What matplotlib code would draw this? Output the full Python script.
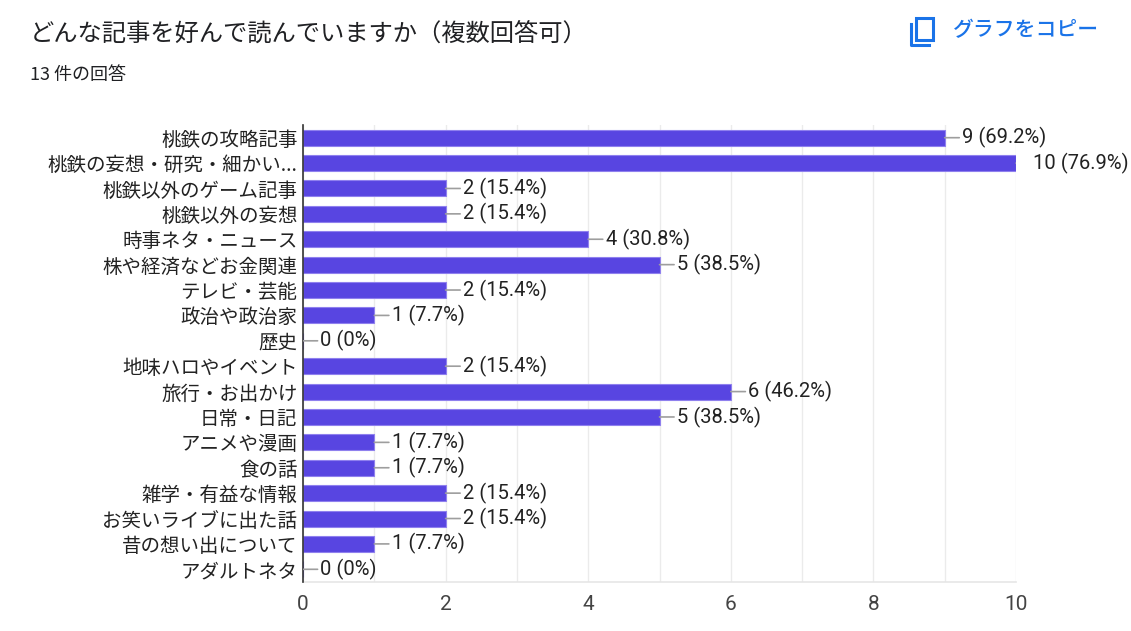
import matplotlib
matplotlib.use("Agg")
import matplotlib.pyplot as plt
from matplotlib.patches import Rectangle
from matplotlib.lines import Line2D

plt.rcParams['font.family'] = ['Noto Sans CJK JP', 'DejaVu Sans']

categories = ["桃鉄の攻略記事", "桃鉄の妄想・研究・細かい...", "桃鉄以外のゲーム記事", "桃鉄以外の妄想",
              "時事ネタ・ニュース", "株や経済などお金関連", "テレビ・芸能", "政治や政治家", "歴史",
              "地味ハロやイベント", "旅行・お出かけ", "日常・日記", "アニメや漫画", "食の話",
              "雑学・有益な情報", "お笑いライブに出た話", "昔の想い出について", "アダルトネタ"]
values = [9, 10, 2, 2, 4, 5, 2, 1, 0, 2, 6, 5, 1, 1, 2, 2, 1, 0]
total = 13
xticks = [0, 2, 4, 6, 8, 10]

W, H = 1131, 631
fig = plt.figure(figsize=(W / 100, H / 100), dpi=100)
ax = fig.add_axes([303 / W, 1 - 582 / H, (1016 - 303) / W, (582 - 125) / H])

bar_color = '#5845e1'
ys = list(range(len(categories)))
ax.barh(ys, values, height=0.63, color=bar_color, edgecolor='#8f80ee', linewidth=0.8, zorder=3)
ax.set_ylim(len(categories) - 0.5, -0.5)
ax.set_xlim(0, 10)

ax.set_xticks(range(0, 11))
ax.set_xticklabels([str(t) if t in xticks else '' for t in range(0, 11)])
ax.grid(axis='x', color='#ebebeb', linewidth=1, zorder=0)
ax.tick_params(axis='x', length=0, pad=9, labelsize=15, labelcolor='#444444')
for lab in ax.get_xticklabels():
    lab.set_family(['Roboto', 'DejaVu Sans'])
ax.set_yticks(ys)
ax.set_yticklabels(categories, fontsize=14, color='#222222')
ax.tick_params(axis='y', length=0, pad=4)

for s in ['top', 'right']:
    ax.spines[s].set_visible(False)
ax.spines['left'].set_color('#333333')
ax.spines['left'].set_linewidth(1.2)
ax.spines['left'].set_zorder(4)
ax.spines['bottom'].set_color('#e6e6e6')
ax.spines['bottom'].set_linewidth(1.2)

for y, v in zip(ys, values):
    pct = v / total * 100
    pct_s = f"{pct:.1f}%" if v > 0 else "0%"
    ann = ax.annotate(f"{v} ({pct_s})", xy=(v, y), xytext=(12.5, 0), textcoords='offset points',
                      va='center', ha='left', fontsize=14.5, color='#222222',
                      family=['Roboto', 'DejaVu Sans'],
                      arrowprops=dict(arrowstyle='-', color='#9e9e9e', lw=1.2, shrinkA=0, shrinkB=0,
                                      relpos=(0, 0.5)),
                      annotation_clip=False, zorder=5)
    ann.arrow_patch.set_clip_box(ax.bbox)
    ann.arrow_patch.set_clip_on(True)

fig.text(30 / W, 1 - 34 / H, "どんな記事を好んで読んでいますか（複数回答可）", fontsize=17.5,
         color='#202124', va='center', ha='left')
fig.text(30 / W, 1 - 75 / H, "13 件の回答", fontsize=13, color='#202124', va='center', ha='left')

blue = '#1a73e8'
fig.text(953 / W, 1 - 30 / H, "グラフをコピー", fontsize=15, color=blue, va='center', ha='left',
         weight='medium')
# copy icon
fig.patches.append(Rectangle((916 / W, 1 - 40 / H), 17 / W, 22 / H, transform=fig.transFigure,
                             fill=False, edgecolor=blue, linewidth=2.2))
fig.lines.append(Line2D([911 / W, 911 / W, 929 / W], [1 - 24 / H, 1 - 44.5 / H, 1 - 44.5 / H],
                        transform=fig.transFigure, color=blue, linewidth=2.2))

fig.savefig("out.png", dpi=100)
